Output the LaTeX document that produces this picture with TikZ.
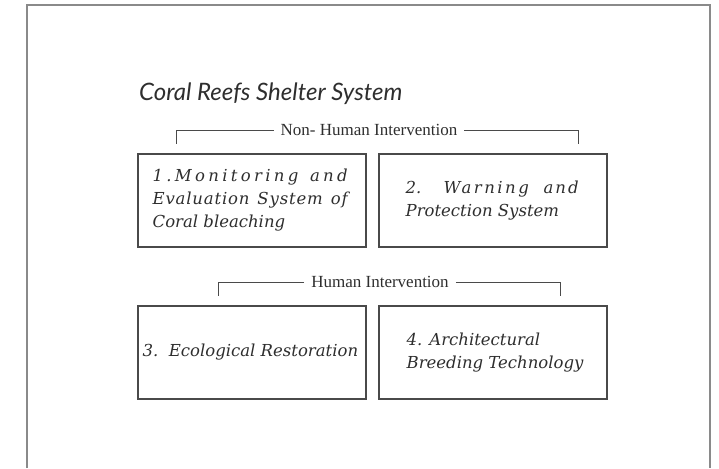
\documentclass[tikz,border=0pt]{standalone}
\usepackage{fontspec}
\usetikzlibrary{shadows}
\setmainfont{DejaVu Serif}
\newfontfamily\titlefont{Lato}
\newfontfamily\boxfont{DejaVu Serif}
\newfontfamily\labelfont{Liberation Serif}
\definecolor{framecol}{HTML}{8A8A8A}
\definecolor{linecol}{HTML}{4A4A4A}
\definecolor{txtcol}{HTML}{2E2E2E}
\begin{document}
\begin{tikzpicture}[x=1pt,y=-1pt,
  box/.style={draw=linecol, fill=white, line width=1.1pt, minimum width=228pt, minimum height=93pt, inner sep=0pt,
    drop shadow={shadow xshift=0.8pt, shadow yshift=-1pt, fill=black!40, opacity=1}},
  boxtext/.style={anchor=west, inner sep=0pt, align=left, text=txtcol,
    font=\boxfont\itshape\fontsize{16.5}{23}\selectfont},
  lbl/.style={text=txtcol, inner sep=7pt, font=\labelfont\fontsize{17}{19}\selectfont},
  brk/.style={draw=linecol, line width=0.9pt}]
\useasboundingbox (0,0) rectangle (719,468);
\draw[framecol, line width=1.5pt] (27,468) -- (27,5) -- (710,5) -- (710,468);

\node[anchor=west, text=txtcol, inner sep=0pt, font=\titlefont\itshape\fontsize{24}{28}\selectfont] (title) at (139,94) {Coral Reefs Shelter System};

\node[box] (b1) at (252,200.5) {};
\node[box] (b2) at (493,200.5) {};
\node[box] (b3) at (252,352.5) {};
\node[box] (b4) at (493,352.5) {};

\node[boxtext] (t1) at ([xshift=15pt]b1.west) {%
  \makebox[195pt][l]{{\addfontfeature{LetterSpace=20}1.Monitoring}\hfill{\addfontfeature{LetterSpace=20}and}}\\
  \makebox[195pt][s]{\addfontfeature{LetterSpace=5}Evaluation System of}\\
  Coral bleaching};
\node[boxtext] (t2) at ([xshift=27pt]b2.west) {%
  \makebox[173pt][l]{2.\hspace{\stretch{1.5}}{\addfontfeature{LetterSpace=15}Warning}\hspace{\stretch{1}}{\addfontfeature{LetterSpace=12}and}}\\
  Protection System};
\node[boxtext] (t3) at ([xshift=5pt]b3.west) {3.\ \ Ecological Restoration};
\node[boxtext] (t4) at ([xshift=28pt]b4.west) {%
  4. Architectural\\
  Breeding Technology};

\node[lbl] (nh) at (369,130) {Non- Human Intervention};
\coordinate (nhL) at (176,144);
\coordinate (nhR) at (578,144);
\draw[brk] (nh.west) -| (nhL);
\draw[brk] (nh.east) -| (nhR);

\node[lbl] (hi) at (380,282) {Human Intervention};
\coordinate (hiL) at (218,296);
\coordinate (hiR) at (560,296);
\draw[brk] (hi.west) -| (hiL);
\draw[brk] (hi.east) -| (hiR);
\end{tikzpicture}
\end{document}
